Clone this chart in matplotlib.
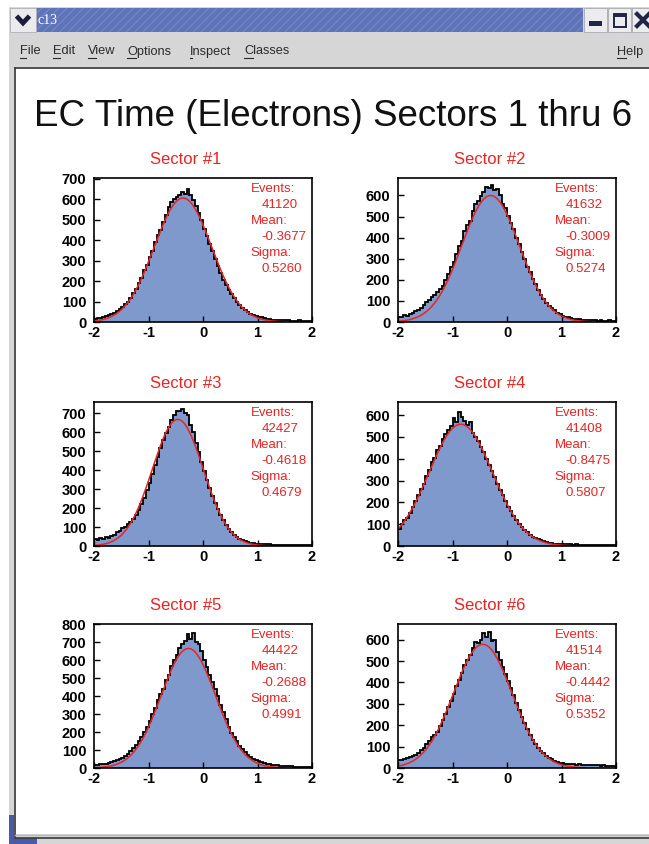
import numpy as np
import matplotlib
matplotlib.use("Agg")
import matplotlib.pyplot as plt
from matplotlib.patches import Rectangle

plt.rcParams["font.family"] = ["Liberation Sans", "DejaVu Sans"]

W, H = 649, 844

# ---------------------------------------------------------------- data
sectors = ["Sector #1", "Sector #2", "Sector #3", "Sector #4", "Sector #5", "Sector #6"]
events = [41120, 41632, 42427, 41408, 44422, 41514]
means = [-0.3677, -0.3009, -0.4618, -0.8475, -0.2688, -0.4442]
sigmas = [0.5260, 0.5274, 0.4679, 0.5807, 0.4991, 0.5352]
fit_peaks = [605, 600, 668, 558, 665, 578]
y_tops = [703, 683, 760, 660, 801, 673]
x_ticks = [-2, -1, 0, 1, 2]
x_tick_labels = ["-2", "-1", "0", "1", "2"]
bin_edges = np.linspace(-2.0, 2.0, 81)

counts_s1 = [16, 18, 20, 24, 27, 32, 38, 44, 52, 62,
             73, 86, 100, 118, 140, 160, 190, 215, 252, 278,
             318, 345, 392, 425, 448, 490, 522, 560, 585, 600,
             612, 620, 635, 625, 650, 620, 595, 565, 530, 500,
             455, 420, 380, 345, 310, 275, 240, 205, 180, 158,
             135, 115, 98, 82, 68, 58, 48, 40, 34, 30,
             26, 22, 18, 16, 14, 12, 11, 10, 9, 9,
             8, 8, 7, 7, 6, 8, 6, 7, 6, 5]
counts_s2 = [26, 24, 32, 30, 40, 42, 52, 55, 67, 80,
             95, 105, 120, 130, 140, 158, 172, 198, 230, 262,
             285, 322, 360, 385, 430, 462, 480, 525, 560, 575,
             598, 615, 640, 635, 648, 625, 632, 600, 560, 540,
             505, 470, 440, 400, 370, 330, 300, 262, 235, 205,
             180, 152, 130, 110, 92, 78, 65, 55, 45, 38,
             30, 26, 22, 19, 16, 14, 12, 11, 10, 9,
             10, 8, 8, 7, 9, 7, 6, 8, 6, 7]
counts_s3 = [35, 32, 40, 38, 45, 42, 55, 58, 72, 80,
             93, 100, 115, 128, 145, 165, 190, 220, 255, 295,
             335, 380, 425, 470, 515, 560, 595, 630, 665, 690,
             710, 715, 725, 700, 690, 640, 600, 545, 495, 445,
             395, 350, 305, 265, 228, 195, 165, 135, 112, 92,
             75, 60, 48, 38, 30, 24, 20, 16, 14, 12,
             12, 10, 9, 8, 8, 7, 6, 5, 5, 5,
             4, 5, 4, 4, 5, 4, 4, 4, 5, 4]
counts_s4 = [78, 100, 118, 128, 150, 178, 205, 232, 262, 285,
             320, 350, 385, 405, 440, 460, 490, 515, 530, 550,
             585, 570, 612, 590, 575, 555, 570, 520, 500, 480,
             455, 430, 400, 372, 345, 315, 285, 258, 232, 205,
             180, 160, 138, 118, 100, 85, 72, 62, 50, 42,
             36, 30, 26, 22, 18, 15, 13, 11, 10, 9,
             8, 8, 7, 7, 6, 8, 6, 5, 5, 6,
             5, 6, 5, 4, 5, 4, 4, 5, 4, 4]
counts_s5 = [15, 16, 20, 22, 25, 28, 32, 38, 45, 52,
             58, 68, 80, 95, 110, 128, 148, 172, 200, 228,
             262, 300, 335, 380, 410, 440, 490, 520, 565, 600,
             630, 665, 690, 705, 745, 720, 750, 700, 690, 650,
             600, 560, 520, 480, 440, 400, 350, 312, 270, 230,
             195, 170, 148, 125, 108, 90, 75, 62, 52, 44,
             38, 32, 28, 24, 20, 18, 15, 14, 12, 11,
             10, 9, 10, 8, 8, 7, 8, 6, 7, 6]
counts_s6 = [36, 38, 40, 45, 50, 55, 62, 70, 82, 95,
             110, 125, 145, 152, 170, 195, 225, 252, 285, 315,
             345, 385, 410, 445, 480, 505, 530, 560, 590, 585,
             600, 630, 610, 635, 595, 600, 540, 505, 470, 440,
             405, 372, 340, 305, 270, 240, 210, 180, 155, 132,
             112, 95, 80, 68, 58, 48, 40, 34, 28, 25,
             22, 20, 18, 18, 17, 16, 17, 15, 14, 15,
             13, 14, 12, 13, 11, 12, 10, 11, 9, 10]
sector_counts = [counts_s1, counts_s2, counts_s3, counts_s4, counts_s5, counts_s6]

RED = "#e82424"
FILL = "#7f99cc"
MENU_GRAY = "#d6d6d6"
DARK = "#3a3a3a"

fig = plt.figure(figsize=(W / 100, H / 100), dpi=100)
fig.patch.set_facecolor("white")


def px_rect(x0, y0, w, h):
    return [x0 / W, 1 - (y0 + h) / H, w / W, h / H]


# ---------------------------------------------------------------- window frame
win = fig.add_axes([0, 0, 1, 1])
win.set_xlim(0, W)
win.set_ylim(H, 0)
win.axis("off")

win.add_patch(Rectangle((9, 7), W - 9, H - 7, fc=MENU_GRAY, ec="none"))
# title bar
win.add_patch(Rectangle((36, 8), 583 - 36, 24, fc="#5e74b8", ec="#7085c4",
                        hatch="////", lw=0))
win.add_patch(Rectangle((10, 8), 26, 24, fc="#ebebee", ec="#b0b0b8", lw=0.6))
win.plot([16.5, 23, 29.5], [16, 23, 16], color="#1b1d3a", lw=3.4,
         solid_capstyle="butt", solid_joinstyle="miter")
win.text(38, 20.5, "c13", color="white", fontsize=10, family="Liberation Serif",
         ha="left", va="center")
for bx, bw in [(584, 23), (608, 23), (632, 17)]:
    win.add_patch(Rectangle((bx, 8), bw, 24, fc="#ececef", ec="#a8a8b0", lw=0.6))
win.add_patch(Rectangle((589, 21), 13, 5, fc="#1e2546", ec="none"))
win.add_patch(Rectangle((613.5, 13.5), 12, 13, fc="none", ec="#1e2546", lw=1.4))
win.add_patch(Rectangle((613.5, 13.5), 12, 3, fc="#1e2546", ec="none"))
win.plot([637, 649], [14, 26], color="#1e2546", lw=3)
win.plot([637, 649], [26, 14], color="#1e2546", lw=3)

# menu bar
win.add_patch(Rectangle((10, 33), W - 10, 35, fc=MENU_GRAY, ec="none"))
menu_items = [("File", 20, 6), ("Edit", 53, 7), ("View", 88, 8), ("Options", 127, 9),
              ("Inspect", 190, 2), ("Classes", 244, 9), ("Help", 617, 9)]
for name, mx, uw in menu_items:
    win.text(mx, 51.5, name, fontsize=9.2, color="#2a2a2a", ha="left", va="center")
    win.plot([mx, mx + uw], [58, 58], color="#2a2a2a", lw=0.8)

# canvas area
win.add_patch(Rectangle((16, 69), W - 16, 765, fc="white", ec="none"))
win.plot([15, W], [68, 68], color=DARK, lw=1.2)
win.plot([15, 15], [68, 837], color=DARK, lw=1.2)
win.plot([15, W], [835, 835], color="#b8b8b8", lw=1.0)
win.plot([15, W], [837.5, 837.5], color=DARK, lw=1.2)
win.add_patch(Rectangle((10, 838), 27, 6, fc="#4a5aa6", ec="none"))
win.add_patch(Rectangle((9, 815), 5, 29, fc="#4a5aa6", ec="none"))

win.text(333, 116, "EC Time (Electrons) Sectors 1 thru 6", fontsize=26.5,
         color="#111111", ha="center", va="center")

# ---------------------------------------------------------------- histograms
col_x = [94, 398]
row_y = [178, 402, 624]
AW, AH = 218, 144

for i in range(6):
    r, c = divmod(i, 2)
    ax = fig.add_axes(px_rect(col_x[c], row_y[r], AW, AH))
    counts = sector_counts[i]
    ax.stairs(counts, bin_edges, fill=True, color=FILL, lw=0)
    ax.stairs(counts, bin_edges, color="black", lw=1.3, baseline=None)

    m, s, a = means[i], sigmas[i], fit_peaks[i]
    xf = np.linspace(max(-2.0, m - 3.5 * s), min(2.0, m + 3.5 * s), 400)
    ax.plot(xf, a * np.exp(-0.5 * ((xf - m) / s) ** 2), color=RED, lw=1.1)

    ax.set_xlim(-2, 2)
    ax.set_ylim(0, y_tops[i])
    yt = np.arange(0, y_tops[i] + 1, 100)
    ax.set_yticks(yt, labels=[str(int(v)) for v in yt], fontweight="bold", fontsize=10.5)
    ax.set_xticks(x_ticks, labels=x_tick_labels, fontweight="bold", fontsize=10.5)
    ax.tick_params(direction="in", length=4, width=1.0, top=False, right=False)
    ax.tick_params(axis="y", pad=5.5)
    ax.tick_params(axis="x", pad=3)
    for sp in ax.spines.values():
        sp.set_linewidth(1.2)
    ax.set_facecolor("white")

    ax.text(0.5 - 17 / AW, 1 + 18 / AH, sectors[i], transform=ax.transAxes,
            ha="center", va="center", color=RED, fontsize=12)

    stat_lines = ["Events:", f"{events[i]}", "Mean:", f"{means[i]:.4f}",
                  "Sigma:", f"{sigmas[i]:.4f}"]
    for j, t in enumerate(stat_lines):
        tx = 0.718 if j % 2 == 0 else 0.768
        ty = 1 - (11 + 16 * j) / AH
        ax.text(tx, ty, t, transform=ax.transAxes, ha="left", va="center",
                color=RED, fontsize=9.5)

fig.savefig("out.png", dpi=100)
